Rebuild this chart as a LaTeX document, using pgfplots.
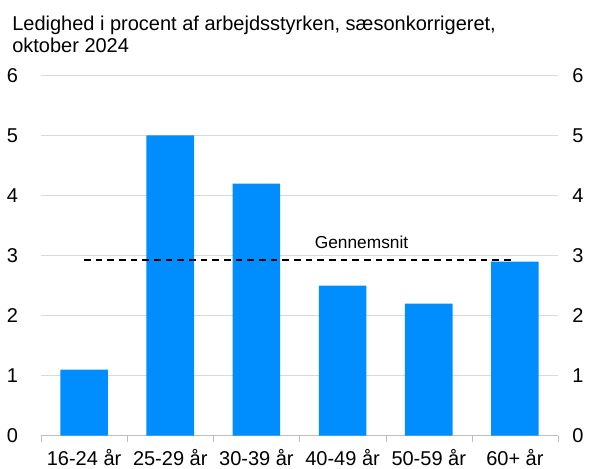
\documentclass[border=0pt]{standalone}
\usepackage{fontspec}
\setmainfont{Liberation Sans}
\usepackage{pgfplots}
\pgfplotsset{compat=1.18}
\definecolor{barblue}{RGB}{0,142,255}
\definecolor{gridgrey}{RGB}{217,217,217}
\definecolor{axisgrey}{RGB}{190,190,190}
\begin{document}
\begin{tikzpicture}
\useasboundingbox (-30.75pt,-24.375pt) rectangle (411pt,326.625pt);
\begin{axis}[
  at={(0pt,0pt)}, anchor=south west,
  scale only axis, width=387.75pt, height=270pt,
  xmin=-0.5, xmax=5.5, ymin=0, ymax=6,
  axis x line*=bottom, axis y line*=left,
  x axis line style={draw=axisgrey, -},
  y axis line style={draw=none},
  xtick={0,1,2,3,4,5},
  xticklabels={16-24 år,25-29 år,30-39 år,40-49 år,50-59 år,60+ år},
  major x tick style={draw=none},
  minor xtick={-0.5,0.5,1.5,2.5,3.5,4.5,5.5},
  minor x tick style={draw=axisgrey},
  minor tick length=4.8pt,
  tick align=outside,
  ytick={0,1,2,3,4,5,6},
  ytick style={draw=none},
  ymajorgrids, major grid style={draw=gridgrey, line width=0.8pt},
  tick label style={font=\fontsize{15}{18}\selectfont},
  /pgf/number format/assume math mode=true,
  yticklabel style={inner sep=0pt, xshift=-12.75pt},
  xticklabel style={inner sep=0pt, yshift=-6pt},
  ybar, bar width=35.7pt,
  clip=false,
]
\addplot[fill=barblue, draw=none] coordinates {(0,1.1) (1,5.0) (2,4.2) (3,2.5) (4,2.2) (5,2.9)};
\addplot[sharp plot, black, line width=1.5pt, dash pattern=on 5pt off 3.75pt, forget plot] coordinates {(0,2.92) (5,2.92)};
\node[font=\fontsize{13}{15}\selectfont, inner sep=0pt] at (axis cs:3.22,3.22) {Gennemsnit};
\end{axis}
\begin{axis}[
  at={(0pt,0pt)}, anchor=south west,
  scale only axis, width=387.75pt, height=270pt,
  xmin=-0.5, xmax=5.5, ymin=0, ymax=6,
  hide x axis,
  axis y line*=right,
  y axis line style={draw=none},
  ytick={0,1,2,3,4,5,6},
  ytick style={draw=none},
  tick label style={font=\fontsize{15}{18}\selectfont},
  /pgf/number format/assume math mode=true,
  yticklabel style={inner sep=0pt, xshift=10.5pt},
]
\end{axis}
\node[anchor=base west, align=left, font=\fontsize{15}{16.5}\selectfont, inner sep=0pt] at (-21.75pt,287.4pt) {Ledighed i procent af arbejdsstyrken, sæsonkorrigeret,\\oktober 2024};
\end{tikzpicture}
\end{document}
